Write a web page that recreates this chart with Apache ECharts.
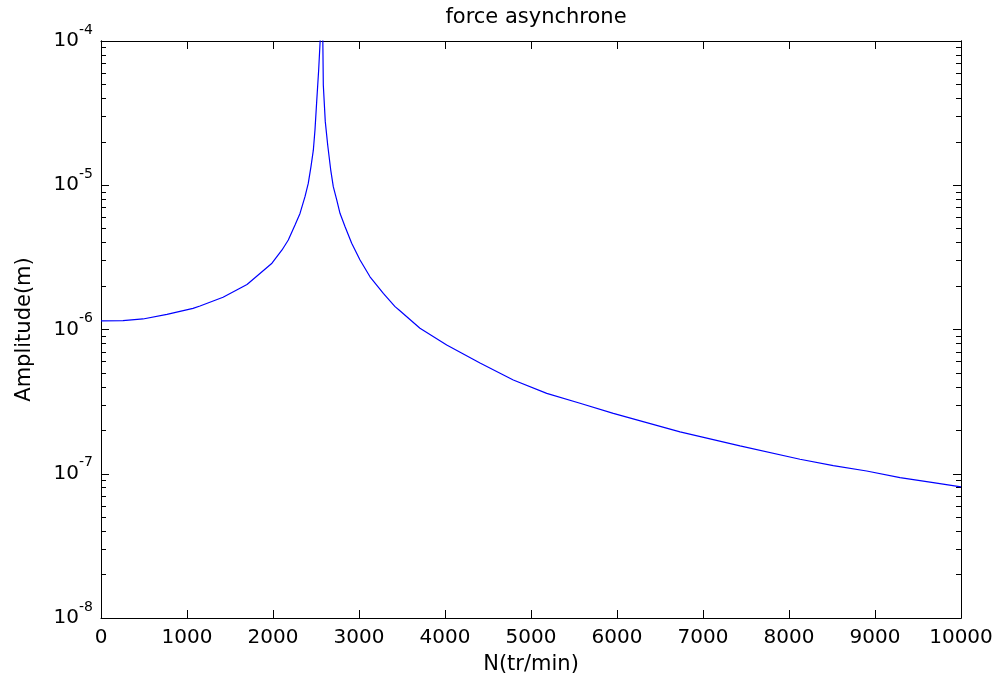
<!DOCTYPE html>
<html>
<head>
<meta charset="utf-8">
<script src="https://cdn.jsdelivr.net/npm/echarts@6/dist/echarts.min.js"></script>
<style>
html,body{margin:0;padding:0;background:#fff;}
#chart{width:999px;height:680px;}
</style>
</head>
<body>
<div id="chart"></div>
<script>
// Data
var speedN = [0, 256, 488, 767, 1070, 1151, 1419, 1698, 1988, 2105, 2178, 2256, 2314, 2372, 2410, 2442, 2469, 2488, 2508, 2531, 2555, 2566, 2578, 2585, 2608, 2636, 2671, 2701, 2741, 2779, 2837, 2915, 3012, 3128, 3283, 3419, 3469, 3709, 4020, 4407, 4794, 5183, 5570, 5957, 6345, 6733, 7430, 8128, 8515, 8903, 9291, 9678, 10000];
var amplitude = [1.146e-6, 1.151e-6, 1.183e-6, 1.274e-6, 1.402e-6, 1.455e-6, 1.672e-6, 2.05e-6, 2.88e-6, 3.56e-6, 4.17e-6, 5.30e-6, 6.38e-6, 8.33e-6, 1.03e-5, 1.35e-5, 1.75e-5, 2.41e-5, 3.80e-5, 6.30e-5, 1.2e-4, 5e-4, 1.2e-4, 4.96e-5, 2.76e-5, 1.90e-5, 1.28e-5, 9.78e-6, 7.91e-6, 6.39e-6, 5.17e-6, 3.96e-6, 3.03e-6, 2.32e-6, 1.78e-6, 1.44e-6, 1.36e-6, 1.02e-6, 7.81e-7, 5.85e-7, 4.47e-7, 3.61e-7, 3.08e-7, 2.62e-7, 2.26e-7, 1.95e-7, 1.56e-7, 1.26e-7, 1.14e-7, 1.045e-7, 9.39e-8, 8.68e-8, 8.10e-8];
var xTicks = [0, 1000, 2000, 3000, 4000, 5000, 6000, 7000, 8000, 9000, 10000];
var yDecadeExponents = [-8, -7, -6, -5, -4];
var titleText = 'force asynchrone';
var xName = 'N(tr/min)';
var yName = 'Amplitude(m)';

var minorLog = [];
for (var d = -8; d < -4; d++) {
  for (var k = 2; k <= 9; k++) minorLog.push(d + Math.log10(k));
}

var FONT = 'DejaVu Sans';
var chart = echarts.init(document.getElementById('chart'), null, {renderer: 'canvas'});

function decoY(position, ticks, len, extra) {
  var a = {
    type: 'value', position: position, min: -8, max: -4, interval: 1,
    axisLine: {show: true, lineStyle: {color: '#000', width: 1}},
    axisTick: {show: true, inside: true, length: len, customValues: ticks, lineStyle: {color: '#000', width: 1}},
    splitLine: {show: false},
    axisLabel: {show: false}
  };
  if (extra) for (var key in extra) a[key] = extra[key];
  return a;
}

var option = {
  backgroundColor: '#fff',
  animation: false,
  title: {
    text: titleText, left: 531, top: 2, textAlign: 'center',
    textStyle: {fontFamily: FONT, fontSize: 21, fontWeight: 'normal', color: '#000'}
  },
  grid: {left: 101, right: 38, top: 41, bottom: 62, containLabel: false, outerBoundsMode: 'none'},
  xAxis: [
    {
      type: 'value', position: 'bottom', min: 0, max: 10000, interval: 1000,
      name: xName, nameLocation: 'middle', nameGap: 36,
      nameTextStyle: {fontFamily: FONT, fontSize: 21, color: '#000'},
      axisLine: {show: true, lineStyle: {color: '#000', width: 1}},
      axisTick: {show: true, inside: true, length: 8, lineStyle: {color: '#000'}},
      splitLine: {show: false},
      axisLabel: {show: true, margin: 10, fontFamily: FONT, fontSize: 20, color: '#000',
        customValues: xTicks, showMinLabel: true, showMaxLabel: true, hideOverlap: false,
        formatter: function (v) { return String(Math.round(v)); }}
    },
    {
      type: 'value', position: 'top', min: 0, max: 10000, interval: 1000,
      axisLine: {show: true, lineStyle: {color: '#000', width: 1}},
      axisTick: {show: true, inside: true, length: 8, lineStyle: {color: '#000'}},
      splitLine: {show: false}, axisLabel: {show: false}
    }
  ],
  yAxis: [
    {
      type: 'log', logBase: 10, min: 1e-8, max: 1e-4, position: 'left',
      axisLine: {show: false}, axisTick: {show: false}, axisLabel: {show: false}, splitLine: {show: false}
    },
    decoY('left', yDecadeExponents, 8, {
      name: yName, nameLocation: 'middle', nameGap: 66,
      nameTextStyle: {fontFamily: FONT, fontSize: 21, color: '#000'},
      axisLabel: {
        show: true, margin: 8, customValues: yDecadeExponents,
        formatter: function (v) { return '{b|10}{s|' + v + '}'; },
        rich: {
          b: {fontFamily: FONT, fontSize: 20, color: '#000'},
          s: {fontFamily: FONT, fontSize: 14, color: '#000', padding: [0, 0, 22, 0]}
        }
      }
    }),
    decoY('left', minorLog, 5),
    decoY('right', yDecadeExponents, 8),
    decoY('right', minorLog, 5)
  ],
  series: [{
    type: 'line', xAxisIndex: 0, yAxisIndex: 0,
    data: speedN.map(function (n, i) { return [n, amplitude[i]]; }),
    showSymbol: false, symbol: 'none', clip: true,
    lineStyle: {color: '#0000ff', width: 1.2},
    itemStyle: {color: '#0000ff'}
  }]
};
chart.setOption(option);
</script>
</body>
</html>
